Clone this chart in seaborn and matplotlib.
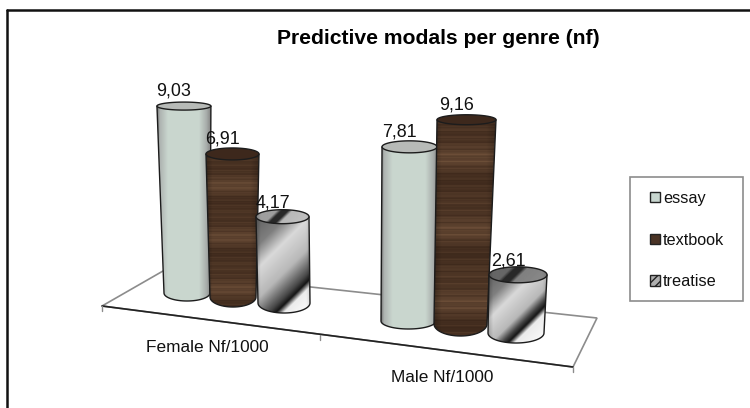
import numpy as np
import pandas as pd
import matplotlib
matplotlib.use('Agg')
import matplotlib.pyplot as plt
from matplotlib.patches import Patch, Polygon, Rectangle
import seaborn as sns

groups = ['Female Nf/1000', 'Male Nf/1000']
genres = ['essay', 'textbook', 'treatise']
essay = [9.03, 7.81]
textbook = [6.91, 9.16]
treatise = [4.17, 2.61]
title = 'Predictive modals per genre (nf)'

# perspective layout, in pixels: base left, base right, base y, ellipse ry base, ry top
base_layout = {
    (0, 0): (164, 210, 293, 8, 4),
    (0, 1): (210, 256, 297, 10, 6),
    (0, 2): (258, 310, 303, 10, 7),
    (1, 0): (381, 436, 321, 8, 6),
    (1, 1): (434, 487, 324, 12, 5),
    (1, 2): (488, 544, 333, 10, 8),
}
# how far the left/right edges lean per unit of value
lean = {
    (0, 0): (-0.78, 0.10),
    (0, 1): (-0.58, 0.43),
    (0, 2): (-0.48, -0.24),
    (1, 0): (0.13, 0.13),
    (1, 1): (0.33, 0.98),
    (1, 2): (0.38, 1.15),
}
px_per_unit = [20.7, 22.3]


def essay_texture():
    pos = [0, 0.05, 0.2, 0.78, 0.92, 1]
    x = np.linspace(0, 1, 120)
    r = np.interp(x, pos, [0.45, 0.68, 0.79, 0.79, 0.66, 0.52])
    g = np.interp(x, pos, [0.45, 0.70, 0.84, 0.84, 0.68, 0.52])
    b = np.interp(x, pos, [0.45, 0.69, 0.81, 0.81, 0.67, 0.52])
    return np.dstack([r, g, b])


def wood_texture(shift):
    # horizontal grain, a few sines stacked up
    y = np.linspace(0, 1, 400) + shift
    grain = (0.22 * np.sin(y * 37) + 0.2 * np.sin(y * 167 + 1) + 0.2 * np.sin(y * 389 + 2)
             + 0.15 * np.sin(y * 613 + 0.5) + 0.35 * np.sin(y * 19 + 4))
    grain = np.clip(grain, -1, 1) * 0.5 + 0.5
    dark = np.array([0.23, 0.15, 0.10])
    light = np.array([0.44, 0.32, 0.23])
    rows = dark + (light - dark) * grain[:, np.newaxis] ** 1.5
    x = np.linspace(0, 1, 60)
    edge = np.interp(x, [0, 0.12, 0.85, 1], [0.75, 1, 1, 0.8])
    return rows[:, np.newaxis, :] * edge[np.newaxis, :, np.newaxis]


def metal_texture(w, h, pos, val):
    # diagonal stripes running from bottom-left to upper-right
    X, Y = np.meshgrid(np.arange(int(w)), np.arange(int(h)))
    u = (X + Y) / (w + h)
    gray = np.interp(u, pos, val)
    edge = np.interp(X / w, [0, 0.08, 0.9, 1], [0.8, 1, 1, 0.85])
    return gray * edge


sns.set_style('white')
plt.rcParams['font.family'] = ['Liberation Sans', 'DejaVu Sans']

df = pd.DataFrame({
    'group': groups * 3,
    'genre': np.repeat(genres, 2),
    'value': essay + textbook + treatise,
})

fig = plt.figure(figsize=(7.5, 4.08), dpi=100)
ax = fig.add_axes([0, 0, 1, 1])
sns.barplot(data=df, x='group', y='value', hue='genre', errorbar=None, legend=False, ax=ax)
heights = [[bar.get_height() for bar in cont] for cont in ax.containers]
for cont in ax.containers:
    for bar in cont:
        bar.set_visible(False)

ax.axis('off')

# outer frame, only top and left are visible
ax.plot([7, 7], [408, 10], color='#111111', lw=1.8, zorder=1)
ax.plot([7, 750], [10, 10], color='#111111', lw=1.8, zorder=1)

# floor of the 3d chart
ax.add_patch(Polygon([(102, 306), (163, 271), (597, 318), (573, 367)], closed=True,
                     fc='white', ec='#8c8c8c', lw=1.2, zorder=1))
ax.plot([102, 573], [306, 367], color='#222222', lw=1.2, zorder=1.1)
for tx, ty in [(102, 306), (320, 335), (573, 367)]:
    ax.plot([tx, tx], [ty, ty + 5], color='#8c8c8c', lw=1, zorder=1.1)

z = 2
for g in range(len(groups)):
    for s in range(len(genres)):
        value = heights[s][g]
        xl, xr, y_base, ry_b, ry_t = base_layout[(g, s)]
        y_top = y_base - value * px_per_unit[g]
        xl_t = xl + lean[(g, s)][0] * value
        xr_t = xr + lean[(g, s)][1] * value

        t = np.linspace(np.pi, 0, 40)
        bottom = np.c_[(xl + xr) / 2 + (xr - xl) / 2 * np.cos(t), y_base + ry_b * np.sin(t)]
        top_t = np.linspace(0, 2 * np.pi, 80)
        top = np.c_[(xl_t + xr_t) / 2 + (xr_t - xl_t) / 2 * np.cos(top_t),
                    y_top + ry_t * np.sin(top_t)]
        body = Polygon(np.vstack([[(xl_t, y_top)], bottom, [(xr_t, y_top)]]),
                       closed=True, fc='none', ec='#1c1c1c', lw=1, zorder=z + 0.5)
        ax.add_patch(body)

        x0 = min(xl, xl_t)
        x1 = max(xr, xr_t)
        y1 = y_base + ry_b
        box = (x0, x1, y1, y_top)
        lid_box = (x0, x1, y_top + ry_t, y_top - ry_t)
        if s == 0:
            img = ax.imshow(essay_texture(), extent=box, aspect='auto', zorder=z)
            lid_img = ax.imshow(np.array([[[0.72, 0.73, 0.72]]]), extent=lid_box, aspect='auto', zorder=z + 1)
        elif s == 1:
            img = ax.imshow(wood_texture(g * 0.37), extent=box, aspect='auto', zorder=z)
            lid_img = ax.imshow(np.array([[[0.24, 0.16, 0.11]]]), extent=lid_box, aspect='auto', zorder=z + 1)
        else:
            dark_at = 0.76 if g == 0 else 0.68
            gray = metal_texture(x1 - x0, y1 - y_top,
                                 [0, 0.2, 0.35, 0.55, dark_at - 0.05, dark_at, dark_at + 0.05, 1],
                                 [0.38, 0.5, 0.85, 0.72, 0.28, 0.08, 0.92, 1.0])
            img = ax.imshow(gray, extent=box, aspect='auto', cmap='gray', vmin=0, vmax=1, zorder=z)
            lid_light = 0.72 if g == 0 else 0.5
            lid = metal_texture(x1 - x0, 2 * ry_t, [0, 0.3, 0.36, 0.46, 0.52, 1],
                                [lid_light - 0.1, lid_light - 0.1, 0.16, 0.16, lid_light, lid_light + 0.05])
            lid_img = ax.imshow(lid, extent=lid_box, aspect='auto', cmap='gray', vmin=0, vmax=1, zorder=z + 1)
        img.set_clip_path(body)
        lid_patch = Polygon(top, closed=True, fc='none', ec='#1c1c1c', lw=1, zorder=z + 1.5)
        ax.add_patch(lid_patch)
        lid_img.set_clip_path(lid_patch)

        # data label with a decimal comma, sits up and left of the lid
        label_y = y_top - 13.5 if s == 2 else y_top - 15
        ax.text((xl_t + xr_t) / 2 - 10, label_y, f'{value:.2f}'.replace('.', ','),
                fontsize=12.9, color='#111111', ha='center', va='center', zorder=50)
        z += 2

ax.text(207, 348, groups[0], fontsize=12.4, color='#111111', ha='center', va='center')
ax.text(442, 377, groups[1], fontsize=12.4, color='#111111', ha='center', va='center')
ax.text(438, 39, title, fontsize=15.2, fontweight='bold', color='black', ha='center', va='center')

handles = [
    Patch(facecolor='#c8d6cf', edgecolor='#222222', label=genres[0]),
    Patch(facecolor='#4a3325', edgecolor='#222222', label=genres[1]),
    Patch(facecolor='#b0b0b0', edgecolor='#222222', hatch='////', label=genres[2]),
]
ax.set_xlim(0, 750)
ax.set_ylim(408, 0)

# legend box is drawn apart since its padding is uneven
ax.add_patch(Rectangle((630, 177), 113, 124, fc='white', ec='#8c8c8c', lw=1.2, zorder=59))
leg = ax.legend(handles=handles, loc='upper left', bbox_to_anchor=(650 / 750, 1 - 191 / 408),
                borderaxespad=0, frameon=False, fontsize=11.7, handlelength=0.6,
                handleheight=0.6, handletextpad=0.2, labelspacing=1.64, borderpad=0)
leg.set_zorder(60)
for txt in leg.get_texts():
    txt.set_color('#111111')

fig.savefig('out.png', dpi=100)
